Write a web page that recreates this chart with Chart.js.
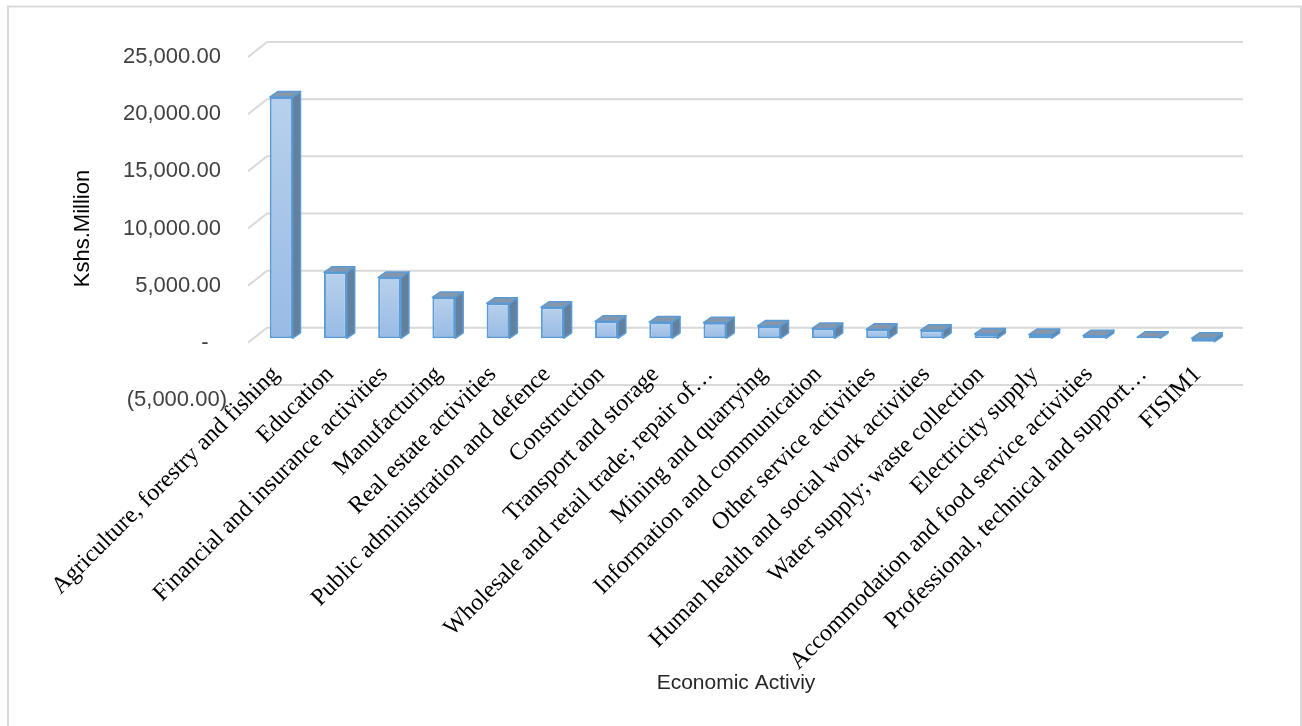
<!DOCTYPE html>
<html>
<head>
<meta charset="utf-8">
<script src="https://cdn.jsdelivr.net/npm/chart.js@4.4.1/dist/chart.umd.min.js"></script>
<style>
  html, body { margin: 0; padding: 0; background: #fff; }
  #wrap { width: 1302px; height: 726px; }
</style>
</head>
<body>
<div id="wrap"><canvas id="myChart" width="1302" height="726"></canvas></div>
<script>
const categories = [
  'Agriculture, forestry and fishing',
  'Education',
  'Financial and insurance activities',
  'Manufacturing',
  'Real estate activities',
  'Public administration and defence',
  'Construction',
  'Transport and storage',
  'Wholesale and retail trade; repair of\u2026',
  'Mining and quarrying',
  'Information and communication',
  'Other service activities',
  'Human health and social work activities',
  'Water supply; waste collection',
  'Electricity supply',
  'Accommodation and food service activities',
  'Professional, technical and support\u2026',
  'FISIM1'
]
const values = [21100, 5770, 5330, 3580, 3060, 2710, 1490, 1420, 1370, 1080, 850, 790, 700, 380, 330, 230, 100, -300]
const yMin = -5000
const yMax = 25000
const yStep = 5000
const yTitle = 'Kshs.Million'
const xTitle = 'Economic Activiy'

// depth of the wall and of the boxes (px)
const WALL = { dx: 19, dy: -15 }
const BOX_SHIFT = { dx: 6, dy: -4.5 }
const BOX_DEPTH = { dx: 8, dy: -5.5 }
const EDGE = '#5b9bd5'

const fmt = (v) => v.toLocaleString('en-US', { minimumFractionDigits: 2, maximumFractionDigits: 2 })
const accounting = (v) => {
  if (v === 0) return '-   '
  if (v < 0) return '(' + fmt(-v) + ')'
  return fmt(v) + ' '
}

const frontFill = (c) => {
  const ys = c.chart.scales.y
  if (!ys || !c.parsed) return '#a9c6ea'
  const top = ys.getPixelForValue(Math.max(c.parsed.y, 0))
  const base = ys.getPixelForValue(Math.min(c.parsed.y, 0))
  if (!isFinite(top) || !isFinite(base) || top === base) return '#a9c6ea'
  const g = c.chart.ctx.createLinearGradient(0, top, 0, base)
  g.addColorStop(0, '#b8d0ec')
  g.addColorStop(1, '#98bbe5')
  return g
}

// background, outer frame and back wall gridlines (under the tick labels)
const backdrop = {
  id: 'backdrop',
  beforeDraw(chart) {
    const ctx = chart.ctx
    const ys = chart.scales.y
    const area = chart.chartArea
    ctx.save()
    ctx.fillStyle = '#fff'
    ctx.fillRect(0, 0, chart.width, chart.height)
    ctx.strokeStyle = '#d9d9d9'
    ctx.lineWidth = 2
    ctx.strokeRect(8, 6.5, 1293, 800)
    ys.ticks.forEach((t) => {
      const y = ys.getPixelForValue(t.value)
      ctx.beginPath()
      ctx.moveTo(area.left, y)
      ctx.lineTo(area.left + WALL.dx, y + WALL.dy)
      ctx.lineTo(area.right + WALL.dx, y + WALL.dy)
      ctx.stroke()
    })
    ctx.restore()
  }
}

const depth = {
  id: 'depth',
  beforeDatasetsDraw(chart) {
    const ctx = chart.ctx
    // box sides and tops, then chart.js draws the fronts in the same shift
    ctx.save()
    ctx.translate(BOX_SHIFT.dx, BOX_SHIFT.dy)
    ctx.lineWidth = 1.5
    ctx.lineJoin = 'round'
    ctx.strokeStyle = EDGE
    chart.getDatasetMeta(0).data.forEach((el) => {
      const p = el.getProps(['x', 'y', 'base', 'width'], true)
      const l = p.x - p.width / 2
      const r = p.x + p.width / 2
      const top = Math.min(p.y, p.base)
      const bot = Math.max(p.y, p.base)
      // right side
      ctx.fillStyle = '#64809f'
      ctx.beginPath()
      ctx.moveTo(r, top)
      ctx.lineTo(r + BOX_DEPTH.dx, top + BOX_DEPTH.dy)
      ctx.lineTo(r + BOX_DEPTH.dx, bot + BOX_DEPTH.dy)
      ctx.lineTo(r, bot)
      ctx.closePath()
      ctx.fill()
      ctx.stroke()
      // top
      ctx.fillStyle = '#8696ab'
      ctx.beginPath()
      ctx.moveTo(l, top)
      ctx.lineTo(l + BOX_DEPTH.dx, top + BOX_DEPTH.dy)
      ctx.lineTo(r + BOX_DEPTH.dx, top + BOX_DEPTH.dy)
      ctx.lineTo(r, top)
      ctx.closePath()
      ctx.fill()
      ctx.stroke()
    })
  },
  afterDatasetsDraw(chart) {
    chart.ctx.restore()
  }
}

const config = {
  type: 'bar',
  data: {
    labels: categories,
    datasets: [
      {
        data: values,
        backgroundColor: frontFill,
        borderColor: EDGE,
        borderWidth: 2,
        borderSkipped: false,
        categoryPercentage: 1,
        barPercentage: 0.42,
      },
    ],
  },
  options: {
    responsive: false,
    animation: false,
    layout: { padding: { left: 66, right: 78, top: 57, bottom: 26 } },
    plugins: { legend: { display: false }, tooltip: { enabled: false } },
    scales: {
      x: {
        grid: { display: false, drawTicks: false },
        border: { display: false },
        ticks: {
          autoSkip: false,
          minRotation: 45,
          maxRotation: 45,
          mirror: true, // labels start inside the floor, above the -5000 line
          padding: 19,
          labelOffset: 21,
          color: '#000',
          font: { family: '"Liberation Serif", "Times New Roman", serif', size: 24 },
        },
        title: {
          display: true,
          text: xTitle,
          color: '#262626',
          font: { family: '"Liberation Sans", Arial, sans-serif', size: 21 },
        },
        afterFit: (s) => { s.height = 300 },
      },
      y: {
        min: yMin,
        max: yMax,
        grid: { display: false, drawTicks: false },
        border: { display: false },
        ticks: {
          stepSize: yStep,
          padding: 21,
          color: '#404040',
          callback: (v) => accounting(v),
          font: { family: '"Liberation Sans", Arial, sans-serif', size: 22 },
        },
        title: {
          display: true,
          text: yTitle,
          color: '#000',
          font: { family: '"Liberation Sans", Arial, sans-serif', size: 22 },
        },
        afterFit: (s) => { s.width = 182 },
      },
    },
  },
  plugins: [backdrop, depth],
}

var myChart = new Chart(document.getElementById('myChart'), config)
</script>
</body>
</html>
